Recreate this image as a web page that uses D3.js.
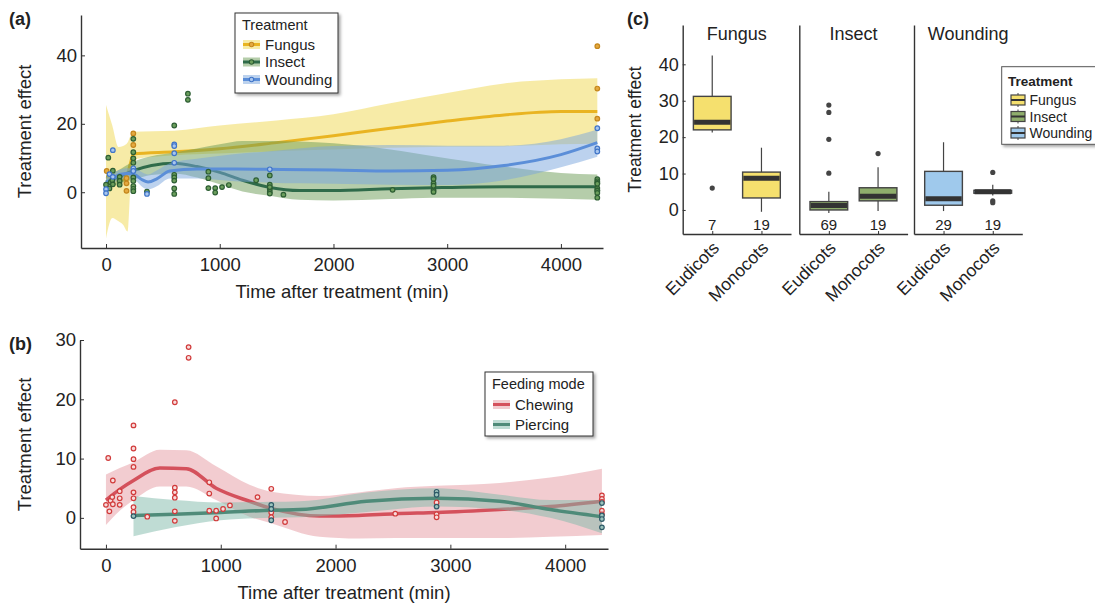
<!DOCTYPE html>
<html>
<head>
<meta charset="utf-8">
<script src="https://cdn.jsdelivr.net/npm/d3@7"></script>
<style>
body { margin: 0; background: #fff; }
text { font-family: "Liberation Sans", Arial, sans-serif; fill: #222; }
</style>
</head>
<body>
<div id="chart-area"></div>
<script>
// ---- data: panel (a) points [time, effect] ----
var fungusPts = [[6,6.2],[180,4.1],[180,2.6],[180,0.4],[240,17.2],[240,13.8],[240,9.8],
    [4320,42.7],[4320,30.3],[4320,21.5]]
var chewingPts = [[0,2.2],[20,10.1],[30,1.1],[40,2.9],[55,3.5],[60,6.3],[60,2.3],[120,4.5],[120,3.3],[120,2.2],
    [240,15.6],[240,11.7],[240,9.9],[240,8.6],[240,4.3],[240,3.3],[240,1.8],[240,1.0],
    [360,0.2],[600,19.5],[600,5.1],[600,4.3],[600,3.4],[600,1.1],[600,-0.5],[720,28.8],[720,27.0],
    [900,6.0],[900,4.1],[900,1.2],[960,1.2],[960,-0.1],[1020,1.5],[1080,2.1],[1320,3.5],
    [1440,4.9],[1440,0.9],[1440,0.1],[1560,-0.7],[2520,0.7],[2880,2.6],[2880,0.6],[2880,0.1],
    [4320,3.8],[4320,3.2],[4320,2.7],[4320,1.2],[4320,0.6]]
var piercingPts = [[240,0.3],[1440,2.2],[1440,1.5],[1440,-0.4],[2880,4.4],[2880,3.9],[2880,1.9],
    [4320,2.5],[4320,0.4],[4320,-0.2],[4320,-1.6]]
var insectPts = chewingPts.concat(piercingPts)
var woundingPts = [[0,0.9],[0,-0.3],[30,5.3],[60,12.3],[60,4.5],[240,7.0],[240,6.2],[360,-0.5],
    [600,14.0],[600,13.5],[600,11.4],[600,8.6],[1440,6.7],[4320,18.7],[4320,12.8],[4320,11.9]]

// ---- smoothers [time, fit, lower, upper] ----
var fungusFit = [[0,4.5,-13.5,25.5],[55,4.2,-7.5,19.5],[110,3.8,-8.5,13.2],[150,3.6,-9.5,13.5],
    [190,5.5,-11.5,14.5],[215,8.5,2,16.5],[240,11.2,9.6,17.7],[600,11.8,10.8,18],[1000,12.7,11.3,19.5],
    [1500,14.5,12,21],[2000,16.5,12.5,22.8],[2500,18.7,13,26],[3000,20.8,13.3,29],[3500,22.6,13.4,31.8],
    [4000,23.6,14,33],[4320,23.6,14.2,33.3]]
var insectFit = [[0,3.0,1.2,4.8],[100,4.3,2.3,6.3],[240,6.3,3.7,8.9],[400,7.8,5.0,10.5],[600,8.5,5.5,11.6],
    [800,7.5,4.3,12.8],[1000,5.8,2.3,14],[1200,3.5,0.2,15],[1440,1.4,-1,15],[1700,0.5,-2.2,14.8],
    [2000,0.5,-2.4,14.3],[2500,1.0,-2,12.5],[2880,1.3,-1.6,10.5],[3500,1.6,-1.6,7.5],[4000,1.6,-1.9,5.6],
    [4320,1.6,-2.2,5.2]]
var woundingFit = [[0,2.8,1.2,4.4],[60,4.0,2.6,5.6],[120,5.2,3.8,6.6],[200,5.5,4.0,7.0],[260,5.0,3.4,6.8],
    [320,3.6,1.5,5.8],[370,3.0,0.8,5.2],[450,4.0,1.8,6.4],[560,6.2,4.0,8.5],[800,6.8,4.0,9.8],
    [1100,6.8,3.3,11],[1440,6.7,2.8,12],[2000,6.5,2.5,13.5],[2500,6.2,2.2,13.8],[3000,6.4,2.1,13.6],
    [3500,7.8,3.5,13.6],[4000,11,7.3,15.5],[4320,14.5,10.4,18.3]]
var chewingFit = [[0,3.0,-1.2,7.3],[120,4.8,1.2,8.4],[240,6.3,3.0,9.4],[470,8.4,5.3,11.5],[700,8.3,5.3,11.4],
    [960,5.0,3.0,8.7],[1250,2.8,0.2,5.6],[1440,1.6,-0.9,4.4],[1860,0.3,-3.2,3.7],[2200,0.4,-3.5,4.3],
    [2520,0.7,-3.4,5.0],[2880,0.9,-3.4,5.4],[3430,1.4,-3.4,5.9],[3870,1.9,-3.2,6.8],[4320,2.8,-2.9,8.3]]
var piercingFit = [[240,0.4,-3.1,3.7],[600,0.6,-1.6,3.0],[1000,0.9,-0.4,2.6],[1440,1.3,0.0,2.7],
    [1690,1.4,0.1,2.8],[2270,2.8,1.0,4.3],[2880,3.3,1.9,5.0],[3430,2.8,1.4,3.9],[3870,1.4,0.0,3.0],
    [4320,0.2,-2.6,3.0]]

var timeTicks = [0, 1000, 2000, 3000, 4000]
var effectTicksA = [0, 20, 40]
var effectTicksB = [0, 10, 20, 30]

// ---- panel (c) boxplots ----
var treatments = ["Fungus", "Insect", "Wounding"]
var clades = ["Eudicots", "Monocots"]
var boxTreat = ["Fungus","Fungus","Insect","Insect","Wounding","Wounding"]
var boxClade = ["Eudicots","Monocots","Eudicots","Monocots","Eudicots","Monocots"]
var boxLow = [21.3, -0.5, -0.8, -0.3, -0.3, 4.0]
var boxQ1 = [22.0, 3.3, 0.0, 2.5, 1.3, 4.6]
var boxMed = [24.1, 8.7, 1.2, 3.8, 3.1, 5.0]
var boxQ3 = [31.2, 10.4, 2.3, 6.1, 10.6, 5.4]
var boxHigh = [42.4, 17.1, 5.0, 11.7, 18.6, 6.9]
var boxOut = [[6.0], [], [10.1, 19.4, 26.8, 28.8], [15.5], [], [10.3, 2.5, 2.0]]
var boxN = [7, 19, 69, 19, 29, 19]
var effectTicksC = [0, 10, 20, 30, 40]

// ---- styles ----
var sty = {
    Fungus:   { band: "#f0d850", line: "#e9b422", pt: "#e4a940", ptStroke: "#c4861c", box: "#f5e06e" },
    Insect:   { band: "#6b9b55", line: "#2f6b4a", pt: "#6b9e5c", ptStroke: "#2d5e33", box: "#8fae6c" },
    Wounding: { band: "#79a5dd", line: "#5b8ed8", pt: "#a8c6ee", ptStroke: "#3f74c8", box: "#9fc9ec" },
    Chewing:  { band: "#e59aa1", line: "#d4515c", pt: "#f8dcdc", ptStroke: "#d13b3b" },
    Piercing: { band: "#80b9a9", line: "#4f8b79", pt: "#9cc4bd", ptStroke: "#2e5a68" }
}

var svg = d3.select("#chart-area").append("svg")
    .attr("width", 1095).attr("height", 608)

var defs = svg.append("defs")
var sh = defs.append("filter").attr("id", "shadow")
    .attr("x", "-10%").attr("y", "-10%").attr("width", "130%").attr("height", "140%")
sh.append("feDropShadow").attr("dx", 2).attr("dy", 2).attr("stdDeviation", 1.5)
    .attr("flood-color", "#000").attr("flood-opacity", 0.35)

function styleAxis(sel, fs) {
    sel.select(".domain").attr("stroke", "#333").attr("stroke-width", 1.4)
    sel.selectAll(".tick line").attr("stroke", "#333").attr("stroke-width", 1)
    sel.selectAll(".tick text").attr("font-size", fs).attr("fill", "#222")
        .attr("font-family", "Liberation Sans, Arial, sans-serif")
}

function timePanel(x, y, yTicks, series, label, labelY) {
    var g = svg.append("g")
    var gx = g.append("g").attr("transform", "translate(0," + y.range()[0] + ")")
        .call(d3.axisBottom(x).tickValues(timeTicks).tickFormat(d3.format("d"))
            .tickSizeInner(-4).tickSizeOuter(0).tickPadding(10))
    styleAxis(gx, 18.5)
    var gy = g.append("g").attr("transform", "translate(" + x.range()[0] + ",0)")
        .call(d3.axisLeft(y).tickValues(yTicks).tickSizeInner(-4).tickSizeOuter(0).tickPadding(4))
    styleAxis(gy, 18.5)

    var area = d3.area().x(d => x(d[0])).y0(d => y(d[2])).y1(d => y(d[3])).curve(d3.curveMonotoneX)
    var line = d3.line().x(d => x(d[0])).y(d => y(d[1])).curve(d3.curveMonotoneX)

    series.forEach(s => {
        g.append("path").datum(s.fit).attr("d", area)
            .attr("fill", sty[s.name].band).attr("fill-opacity", 0.5)
        g.append("path").datum(s.fit).attr("d", line)
            .attr("fill", "none").attr("stroke", sty[s.name].line).attr("stroke-width", s.lw)
    })
    series.forEach(s => {
        g.selectAll(null).data(s.pts).enter().append("circle")
            .attr("cx", d => x(d[0])).attr("cy", d => y(d[1])).attr("r", 2.3)
            .attr("fill", sty[s.name].pt).attr("stroke", sty[s.name].ptStroke).attr("stroke-width", 1.2)
    })

    var xMid = (x.range()[0] + x.range()[1]) / 2
    var yMid = (y.range()[0] + y.range()[1]) / 2
    g.append("text").attr("x", xMid).attr("y", y.range()[0] + 50)
        .attr("text-anchor", "middle").attr("font-size", 18.5).text("Time after treatment (min)")
    g.append("text").attr("transform", "translate(31," + yMid + ") rotate(-90)")
        .attr("text-anchor", "middle").attr("font-size", 18.5).text("Treatment effect")
    g.append("text").attr("x", 9).attr("y", labelY)
        .attr("font-size", 18).attr("font-weight", "bold").text(label)
    return g
}

// ---- panel (a) ----
var xA = d3.scaleLinear().domain([-220, 4370]).range([81, 603])
var yA = d3.scaleLinear().domain([-16.3, 51.8]).range([248, 15])
timePanel(xA, yA, effectTicksA, [
    { name: "Fungus", fit: fungusFit, pts: fungusPts, lw: 3 },
    { name: "Insect", fit: insectFit, pts: insectPts, lw: 3 },
    { name: "Wounding", fit: woundingFit, pts: woundingPts, lw: 3 }
], "(a)", 25)

// ---- panel (b) ----
var xB = d3.scaleLinear().domain([-226, 4373]).range([80, 608])
var yB = d3.scaleLinear().domain([-5.2, 30]).range([548.7, 340])
timePanel(xB, yB, effectTicksB, [
    { name: "Chewing", fit: chewingFit, pts: chewingPts, lw: 3.5 },
    { name: "Piercing", fit: piercingFit, pts: piercingPts, lw: 3.5 }
], "(b)", 350)

// ---- legends for (a) and (b) ----
function lineLegend(x0, y0, w, h, title, names, withPts, rowY) {
    var g = svg.append("g")
    g.append("rect").attr("x", x0).attr("y", y0).attr("width", w).attr("height", h)
        .attr("fill", "#fff").attr("stroke", "#333").attr("stroke-width", 1).attr("filter", "url(#shadow)")
    g.append("text").attr("x", x0 + 7).attr("y", y0 + 17).attr("font-size", 14.5).text(title)
    names.forEach((n, i) => {
        var cy = y0 + rowY[i]
        g.append("rect").attr("x", x0 + 8).attr("y", cy - 4.5).attr("width", 17).attr("height", 9)
            .attr("fill", sty[n].band).attr("fill-opacity", 0.5)
        g.append("line").attr("x1", x0 + 8).attr("x2", x0 + 25).attr("y1", cy).attr("y2", cy)
            .attr("stroke", sty[n].line).attr("stroke-width", 3)
        if (withPts) g.append("circle").attr("cx", x0 + 16.5).attr("cy", cy).attr("r", 2.2)
            .attr("fill", sty[n].pt).attr("stroke", sty[n].ptStroke).attr("stroke-width", 1.1)
        g.append("text").attr("x", x0 + 30).attr("y", cy + 5.3).attr("font-size", 15).text(n)
    })
}
lineLegend(235, 13, 103, 80, "Treatment", ["Fungus", "Insect", "Wounding"], true, [31.5, 49, 66.5])
lineLegend(485, 372, 108, 64, "Feeding mode", ["Chewing", "Piercing"], false, [32.5, 52.5])

// ---- panel (c) ----
var yC = d3.scaleLinear().domain([-6.6, 50.8]).range([234, 25])
var facetX = d3.scaleOrdinal().domain(treatments).range([682.7, 799.3, 914])
var facetW = 108.3
var xC = d3.scalePoint().domain(clades).range([0, facetW]).padding(0.6)
var boxW = 37.7

treatments.forEach((t, ti) => {
    var fg = svg.append("g").attr("transform", "translate(" + facetX(t) + ",0)")
    var ax = fg.append("g").attr("transform", "translate(0," + yC.range()[0] + ")")
        .call(d3.axisBottom(xC).tickSizeInner(-3).tickSizeOuter(0).tickFormat(""))
    styleAxis(ax, 17)
    var ay = fg.append("g")
        .call(d3.axisLeft(yC).tickValues(effectTicksC).tickSizeInner(ti == 0 ? -3 : 0)
            .tickSizeOuter(0).tickPadding(4).tickFormat(ti == 0 ? d3.format("d") : ""))
    styleAxis(ay, 18)
    fg.append("text").attr("x", facetW / 2).attr("y", 40).attr("text-anchor", "middle")
        .attr("font-size", 18).text(t)
    clades.forEach(c => {
        fg.append("text").attr("text-anchor", "end").attr("font-size", 17.5)
            .attr("transform", "translate(" + (xC(c) + 8) + "," + (yC.range()[0] + 15) + ") rotate(-45)")
            .text(c)
    })
})

boxTreat.forEach((t, i) => {
    var cx = facetX(t) + xC(boxClade[i])
    var g = svg.append("g")
    g.append("line").attr("x1", cx).attr("x2", cx).attr("y1", yC(boxLow[i])).attr("y2", yC(boxHigh[i]))
        .attr("stroke", "#444").attr("stroke-width", 1.2)
    g.append("rect").attr("x", cx - boxW / 2).attr("width", boxW)
        .attr("y", yC(boxQ3[i])).attr("height", yC(boxQ1[i]) - yC(boxQ3[i]))
        .attr("fill", sty[t].box).attr("stroke", "#444").attr("stroke-width", 1.4)
    g.append("line").attr("x1", cx - boxW / 2 + 0.7).attr("x2", cx + boxW / 2 - 0.7)
        .attr("y1", yC(boxMed[i])).attr("y2", yC(boxMed[i]))
        .attr("stroke", "#333").attr("stroke-width", 5)
    g.selectAll(null).data(boxOut[i]).enter().append("circle")
        .attr("cx", cx).attr("cy", d => yC(d)).attr("r", 2.6).attr("fill", "#444")
    g.append("text").attr("x", cx).attr("y", 229.5).attr("text-anchor", "middle")
        .attr("font-size", 15).attr("fill", "#333").text(boxN[i])
})

svg.append("text").attr("transform", "translate(641," + ((yC.range()[0] + yC.range()[1]) / 2) + ") rotate(-90)")
    .attr("text-anchor", "middle").attr("font-size", 17.5).text("Treatment effect")
svg.append("text").attr("x", 627).attr("y", 25).attr("font-size", 18).attr("font-weight", "bold").text("(c)")

// legend (c)
var lc = svg.append("g")
lc.append("rect").attr("x", 1001.7).attr("y", 66.7).attr("width", 110).attr("height", 77.6)
    .attr("fill", "#fff").attr("stroke", "#555").attr("stroke-width", 1).attr("filter", "url(#shadow)")
lc.append("text").attr("x", 1008).attr("y", 85.5).attr("font-size", 13.5).attr("font-weight", "bold")
    .attr("fill", "#333").text("Treatment")
treatments.forEach((t, i) => {
    var cy = 100 + i * 16.5
    lc.append("line").attr("x1", 1018).attr("x2", 1018).attr("y1", cy - 7).attr("y2", cy + 7)
        .attr("stroke", "#444").attr("stroke-width", 1)
    lc.append("rect").attr("x", 1011).attr("y", cy - 5).attr("width", 14).attr("height", 10)
        .attr("fill", sty[t].box).attr("stroke", "#444").attr("stroke-width", 1.2)
    lc.append("line").attr("x1", 1011).attr("x2", 1025).attr("y1", cy).attr("y2", cy)
        .attr("stroke", "#333").attr("stroke-width", 2)
    lc.append("text").attr("x", 1029.5).attr("y", cy + 5).attr("font-size", 14).attr("fill", "#222").text(t)
})
</script>
</body>
</html>
